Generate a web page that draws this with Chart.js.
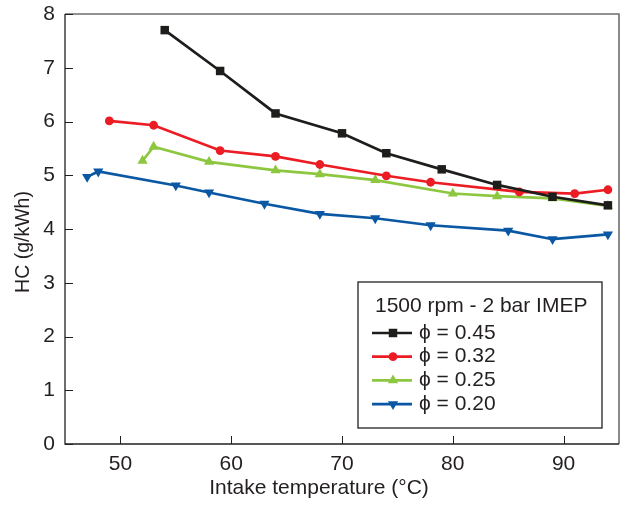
<!DOCTYPE html>
<html>
<head>
<meta charset="utf-8">
<script src="https://cdn.jsdelivr.net/npm/chart.js@4/dist/chart.umd.min.js"></script>
<style>
html,body{margin:0;padding:0;background:#fff;}
#wrap{width:622px;height:506px;position:relative;}
</style>
</head>
<body>
<div id="wrap"><canvas id="c" width="622" height="506"></canvas></div>
<script>
// ---- data ----
const legendTitle = "1500 rpm - 2 bar IMEP";
const seriesLabels = ["\u03D5 = 0.45", "\u03D5 = 0.32", "\u03D5 = 0.25", "\u03D5 = 0.20"];
const temp045 = [54, 59, 64, 70, 74, 79, 84, 89, 94];
const hc045   = [7.70, 6.94, 6.15, 5.78, 5.41, 5.11, 4.82, 4.60, 4.44];
const temp032 = [49, 53, 59, 64, 68, 74, 78, 86, 91, 94];
const hc032   = [6.01, 5.93, 5.46, 5.35, 5.20, 4.99, 4.87, 4.69, 4.66, 4.73];
const temp025 = [52, 53, 58, 64, 68, 73, 80, 84, 89, 94];
const hc025   = [5.27, 5.53, 5.25, 5.09, 5.02, 4.91, 4.66, 4.61, 4.57, 4.43];
const temp020 = [47, 48, 55, 58, 63, 68, 73, 78, 85, 89, 94];
const hc020   = [4.97, 5.07, 4.81, 4.68, 4.47, 4.28, 4.20, 4.07, 3.97, 3.81, 3.90];
const xTicks = [50, 60, 70, 80, 90];
const yTicks = [0, 1, 2, 3, 4, 5, 6, 7, 8];
const xTitle = "Intake temperature (\u00B0C)";
const yTitle = "HC (g/kWh)";

const pts = (xs, ys) => xs.map((x, i) => ({x: x, y: ys[i]}));
const FONT = "'Liberation Sans', Arial, Helvetica, sans-serif";
const FS = 21;
const TXT = '#231f20';

const styles = [
  {color: '#1d1d1b', style: 'rect', r: 6.0, rot: 0},
  {color: '#ec1c24', style: 'circle', r: 4.4, rot: 0},
  {color: '#8dc63f', style: 'triangle', r: 5.9, rot: 0},
  {color: '#0a57a4', style: 'triangle', r: 5.9, rot: 180}
];
const seriesData = [pts(temp045, hc045), pts(temp032, hc032), pts(temp025, hc025), pts(temp020, hc020)];

const datasets = seriesData.map((d, i) => ({
  label: seriesLabels[i],
  data: d,
  borderColor: styles[i].color,
  backgroundColor: styles[i].color,
  pointBackgroundColor: styles[i].color,
  pointBorderColor: styles[i].color,
  pointBorderWidth: 0,
  pointStyle: styles[i].style,
  pointRadius: styles[i].r,
  pointRotation: styles[i].rot,
  borderWidth: 2.7,
  tension: 0,
  fill: false
}));

function drawMarker(ctx, st, x, y) {
  ctx.save();
  ctx.fillStyle = st.color;
  ctx.beginPath();
  const r = st.r;
  if (st.style === 'rect') {
    const s = Math.SQRT1_2 * r;
    ctx.rect(x - s, y - s, 2 * s, 2 * s);
  } else if (st.style === 'circle') {
    ctx.arc(x, y, r, 0, Math.PI * 2);
  } else {
    let rad = st.rot * Math.PI / 180;
    ctx.moveTo(x + Math.sin(rad) * r, y - Math.cos(rad) * r);
    rad += 2 * Math.PI / 3;
    ctx.lineTo(x + Math.sin(rad) * r, y - Math.cos(rad) * r);
    rad += 2 * Math.PI / 3;
    ctx.lineTo(x + Math.sin(rad) * r, y - Math.cos(rad) * r);
  }
  ctx.closePath();
  ctx.fill();
  ctx.restore();
}

const framePlugin = {
  id: 'frame',
  afterDatasetsDraw(chart) {
    const ctx = chart.ctx;
    const a = chart.chartArea;
    const xs = chart.scales.x, ys = chart.scales.y;
    ctx.save();
    ctx.strokeStyle = '#6d6e71';
    ctx.lineWidth = 1.6;
    ctx.beginPath();
    ctx.moveTo(a.left, a.top); ctx.lineTo(a.right, a.top); ctx.lineTo(a.right, a.bottom);
    ctx.stroke();
    ctx.strokeStyle = '#231f20';
    ctx.lineWidth = 1.3;
    ctx.beginPath();
    ctx.moveTo(a.left, a.top); ctx.lineTo(a.left, a.bottom); ctx.lineTo(a.right, a.bottom);
    ctx.stroke();
    ctx.lineWidth = 1;
    ctx.beginPath();
    xs.ticks.forEach(t => {
      const px = Math.round(xs.getPixelForValue(t.value)) + 0.5;
      ctx.moveTo(px, a.bottom); ctx.lineTo(px, a.bottom - 8);
    });
    ys.ticks.forEach(t => {
      const py = Math.round(ys.getPixelForValue(t.value)) + 0.5;
      ctx.moveTo(a.left, py); ctx.lineTo(a.left + 8, py);
    });
    ctx.stroke();

    // axis titles
    ctx.fillStyle = TXT;
    ctx.textBaseline = 'middle';
    ctx.textAlign = 'center';
    ctx.font = FS + 'px ' + FONT;
    ctx.fillText(xTitle, a.left + 254, a.bottom + 44);
    ctx.save();
    ctx.translate(a.left - 41, a.top + 228);
    ctx.rotate(-Math.PI / 2);
    ctx.font = '19.5px ' + FONT;
    ctx.fillText(yTitle, 0, 0);
    ctx.restore();

    // legend box
    const bx = a.right - 261, by = a.top + 268, bw = 244, bh = 146;
    ctx.fillStyle = '#fff';
    ctx.fillRect(bx, by, bw, bh);
    ctx.strokeStyle = '#231f20';
    ctx.lineWidth = 1.3;
    ctx.strokeRect(bx, by, bw, bh);
    ctx.fillStyle = TXT;
    ctx.font = FS + 'px ' + FONT;
    ctx.textBaseline = 'middle';
    ctx.textAlign = 'left';
    ctx.fillText(legendTitle, bx + 17, by + 24);
    chart.data.datasets.forEach((ds, i) => {
      const cy = by + 51 + i * 23.7;
      const lx = bx + 14;
      ctx.strokeStyle = styles[i].color;
      ctx.lineWidth = 2.7;
      ctx.beginPath();
      ctx.moveTo(lx, cy); ctx.lineTo(lx + 40, cy);
      ctx.stroke();
      drawMarker(ctx, styles[i], lx + 21, cy);
      ctx.fillStyle = TXT;
      ctx.fillText(ds.label, lx + 47, cy);
    });
    ctx.restore();
  }
};

new Chart(document.getElementById('c'), {
  type: 'line',
  data: {datasets: datasets},
  options: {
    responsive: false,
    animation: false,
    devicePixelRatio: 1,
    layout: {autoPadding: false, padding: {top: 14, right: 3, bottom: 0, left: 0}},
    plugins: {legend: {display: false}, tooltip: {enabled: false}},
    scales: {
      x: {
        type: 'linear',
        min: 45, max: 95,
        afterBuildTicks: s => { s.ticks = xTicks.map(v => ({value: v})); },
        afterFit: s => { s.height = 62; s.paddingLeft = 0; s.paddingRight = 0; },
        grid: {display: false, drawTicks: false},
        border: {display: false},
        ticks: {color: TXT, font: {family: FONT, size: FS}, padding: 8, maxRotation: 0},
        title: {display: false, text: xTitle}
      },
      y: {
        type: 'linear',
        min: 0, max: 8,
        afterBuildTicks: s => { s.ticks = yTicks.map(v => ({value: v})); },
        afterFit: s => { s.width = 65; s.paddingTop = 0; s.paddingBottom = 0; },
        grid: {display: false, drawTicks: false},
        border: {display: false},
        ticks: {color: TXT, font: {family: FONT, size: FS}, padding: 10},
        title: {display: false, text: yTitle}
      }
    }
  },
  plugins: [framePlugin]
});
</script>
</body>
</html>
